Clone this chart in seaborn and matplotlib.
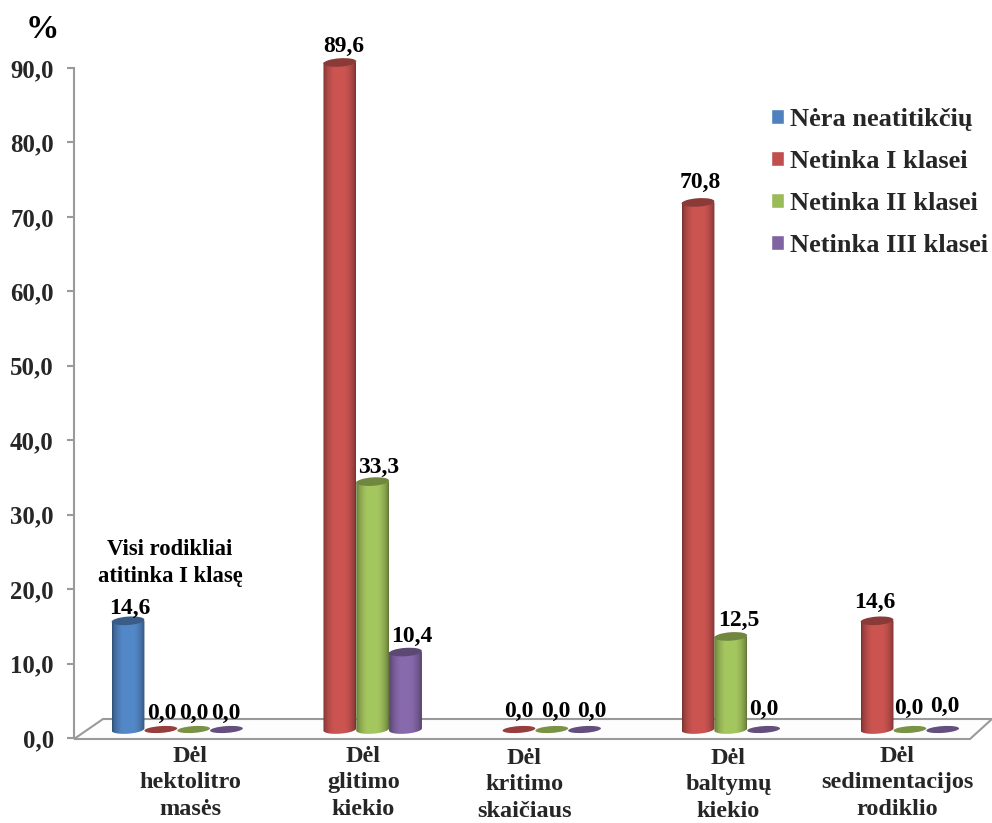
import numpy as np
import pandas as pd
import matplotlib
matplotlib.use("Agg")
import matplotlib.pyplot as plt
import seaborn as sns
from matplotlib.patches import Ellipse, Polygon
from matplotlib.path import Path
from matplotlib.text import OffsetFrom
from matplotlib.transforms import Affine2D, IdentityTransform, ScaledTranslation

categories = ["Dėl\nhektolitro\nmasės", "Dėl\nglitimo\nkiekio", "Dėl\nkritimo\nskaičiaus",
              "Dėl\nbaltymų\nkiekio", "Dėl\nsedimentacijos\nrodiklio"]
series = ["Nėra neatitikčių", "Netinka I klasei", "Netinka II klasei", "Netinka III klasei"]
none_values = [14.6, np.nan, np.nan, np.nan, np.nan]
class1_values = [0.0, 89.6, 0.0, 70.8, 14.6]
class2_values = [0.0, 33.3, 0.0, 12.5, 0.0]
class3_values = [0.0, 10.4, 0.0, 0.0, 0.0]
colors = ["#4F81BD", "#C0504D", "#9BBB59", "#8064A2"]
yticks = [0, 10, 20, 30, 40, 50, 60, 70, 80, 90]

W, H = 992, 823
# label nudges in pixels, per series then per category
label_dx = [[2, 0, 0, 0, 0], [1, 4, 0, 2, -2], [0, 6, 4, 8, -1], [-1, 6, 7, 0, 2]]
label_dy = [[12, 0, 0, 0, 0], [16, 16, 18, 20, 18], [16, 14, 18, 16, 21], [16, 16, 18, 20, 23]]
tick_dx = [13, 7, -11, 14, 4]
tick_dy = [0, 0, -2, -2, 0]

sns.set_style("white")
plt.rcParams["font.family"] = ["Liberation Serif", "DejaVu Serif"]
plt.rcParams["font.weight"] = "bold"

df = pd.DataFrame({
    "cat": np.tile(categories, 4),
    "series": np.repeat(series, 5),
    "val": none_values + class1_values + class2_values + class3_values,
})

fig = plt.figure(figsize=(W / 100, H / 100), dpi=100, facecolor="white")


def axes_px(x0, x1, ytop, ybot):
    return [x0 / W, 1 - ybot / H, (x1 - x0) / W, (ybot - ytop) / H]


# y-axis frame
axy = fig.add_axes(axes_px(74, 972, 68, 738))
axy.set_xlim(0, 1)
axy.set_ylim(0, 90)
axy.set_xticks([])
axy.set_yticks(yticks)
axy.set_yticklabels([f"{v:.1f}".replace(".", ",") for v in yticks], fontsize=17.8, fontweight="bold")
axy.tick_params(axis="y", length=5, width=1.5, color="#9a9a9a", pad=9.5, left=True)
for s in ["top", "right", "bottom"]:
    axy.spines[s].set_visible(False)
axy.spines["left"].set_color("#9a9a9a")
axy.spines["left"].set_linewidth(1.5)
axy.patch.set_alpha(0)

# floor of the 3-D look
floor_px = [(74, 739), (970, 739), (992, 719), (103, 719)]
floor = Polygon([(x / W, 1 - y / H) for x, y in floor_px], closed=True, transform=fig.transFigure,
                facecolor="#fdfdfd", edgecolor="#9a9a9a", lw=1.5, zorder=0)
fig.add_artist(floor)

# bars
ax = fig.add_axes(axes_px(87.7, 983, 59.5, 729.5))
ax.patch.set_alpha(0)
sns.barplot(data=df, x="cat", y="val", hue="series", hue_order=series, order=categories,
            palette=colors, saturation=1, width=0.733, gap=0, dodge=True, errorbar=None, ax=ax)
ax.set_xlim(-0.5, 4.5)
ax.set_ylim(0, 90)
ax.set_xlabel("")
ax.set_ylabel("")
ax.set_yticks([])
sns.despine(ax=ax, left=True, bottom=True)
ax.tick_params(axis="x", length=0, pad=12)

for tl, dx, dy in zip(ax.get_xticklabels(), tick_dx, tick_dy):
    tl.set_fontsize(17.5)
    tl.set_fontweight("bold")
    tl.set_linespacing(1.33)
    tl.set_transform(tl.get_transform() + Affine2D().translate(dx, dy))

fig.canvas.draw()
RY = 4.2
profile = np.linspace(0, 1, 64)
factor = np.minimum(0.6 + 0.5 * np.sin(np.pi * profile) ** 0.6, 1.06)

for hi, cont in enumerate(ax.containers):
    base = np.array(matplotlib.colors.to_rgb(colors[hi]))
    for bar in cont:
        xc = bar.get_x() + bar.get_width() / 2
        h = bar.get_height()
        if not np.isfinite(h):
            continue
        g = int(round(xc))
        px0 = ax.transData.transform((bar.get_x(), 0))
        px1 = ax.transData.transform((bar.get_x() + bar.get_width(), h))
        xl, xr, yb, yt = px0[0], px1[0], px0[1], px1[1]
        rx = (xr - xl) / 2
        at = ScaledTranslation(xc, h, ax.transData)
        if h > 0:
            bar.set_visible(False)
            t = np.linspace(np.pi, 2 * np.pi, 30)
            arc = np.c_[(xl + xr) / 2 + rx * np.cos(t), yb + RY * np.sin(t) + 0.07 * rx * np.cos(t)]
            clip = Path(np.vstack([[(xr, yt), (xl, yt)], arc, [(xr, yt)]]))
            img = np.clip((factor[:, None] * base)[None, :, :], 0, 1)
            im = ax.imshow(img, extent=[bar.get_x(), bar.get_x() + bar.get_width(), -1.5, h + 1],
                           aspect="auto", zorder=2, interpolation="bilinear")
            im.set_clip_box(fig.bbox)
            im.set_clip_path(clip, IdentityTransform())
            top = Ellipse((0, 0), 2 * rx, 2 * RY, angle=4, transform=at, facecolor=base * 0.72,
                          edgecolor="none", zorder=3, clip_on=False)
            ax.add_patch(top)
            top.set_clip_on(False)
        else:
            disc = Ellipse((0, 0), 2 * rx, 2 * 3.4, angle=4, transform=at, facecolor=base * 0.78,
                           edgecolor="none", zorder=3, clip_on=False)
            ax.add_patch(disc)
            disc.set_clip_on(False)
        ax.annotate(f"{h:.1f}".replace(".", ","), (xc, h), xytext=(label_dx[hi][g], label_dy[hi][g]),
                    textcoords=OffsetFrom(ax.transData, (xc, h), "pixels"),
                    ha="center", va="center", fontsize=17, fontweight="bold", color="black", zorder=5)

ax.set_xlim(-0.5, 4.5)
ax.set_ylim(0, 90)

handles, labels = ax.get_legend_handles_labels()
ax.legend(handles, labels, loc="upper left", frameon=False,
          bbox_to_anchor=(771 / W, 1 - 108 / H), bbox_transform=fig.transFigure,
          prop={"family": "Liberation Serif", "weight": "bold", "size": 19},
          handlelength=0.5, handleheight=0.5, handletextpad=0.23, labelspacing=0.72,
          borderpad=0, borderaxespad=0)

fig.text(42 / W, 1 - 30 / H, "%", ha="center", va="center", fontsize=24, fontweight="bold", color="black")
fig.text(170 / W, 1 - 563 / H, "Visi rodikliai\natitinka I klasę", ha="center", va="center",
         fontsize=16.3, fontweight="bold", color="black", linespacing=1.35)

fig.savefig("out.png", dpi=100)
